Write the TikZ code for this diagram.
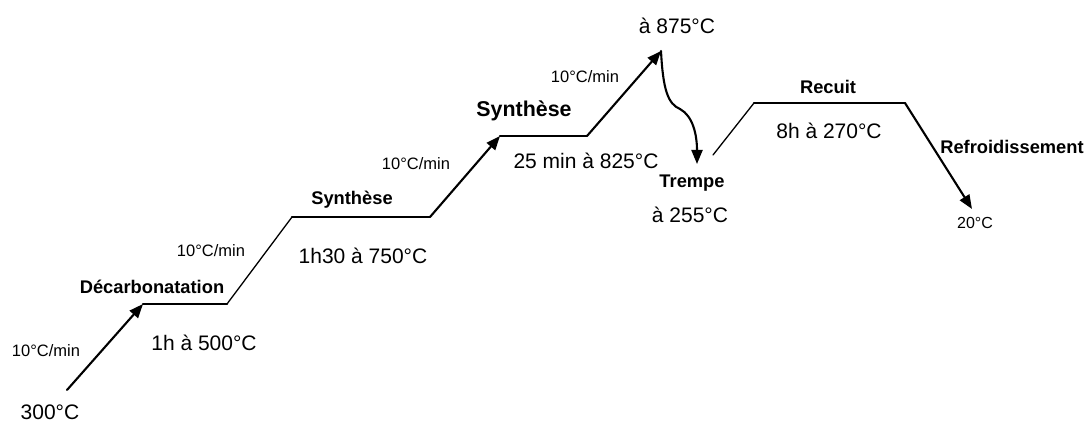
\documentclass[tikz,border=0pt]{standalone}
\usepackage{fontspec}
\setmainfont{Liberation Sans}
\usetikzlibrary{arrows.meta}
\begin{document}
\begin{tikzpicture}[x=1pt,y=-1pt,
  big/.style={inner sep=0pt,font=\fontsize{21}{21}\selectfont},
  stage/.style={inner sep=0pt,font=\fontsize{18.3}{18.3}\selectfont\bfseries},
  rate/.style={inner sep=0pt,font=\fontsize{16.5}{16.5}\selectfont},
  thick line/.style={line width=2.1pt,line cap=round,line join=round},
  thin line/.style={line width=1.3pt,line cap=round,line join=round},
  arr/.style={thick line,-{Triangle[length=14pt,width=11pt]}}]
\useasboundingbox (0,0) rectangle (1092,425);
% path vertices
\coordinate (p0) at (67,390);
\coordinate (p1) at (143,304);
\coordinate (p2) at (227,304);
\coordinate (p3) at (292,217);
\coordinate (p4) at (430,217);
\coordinate (p5) at (500,136);
\coordinate (p6) at (587,136);
\coordinate (p7) at (661,51);
\coordinate (p8) at (697,164);
\coordinate (p9) at (713,155);
\coordinate (p10) at (754,103);
\coordinate (p11) at (905,103);
\coordinate (p12) at (972,209);
% connectors
\draw[arr] (p0) -- (p1);
\draw[thick line] (p1) -- (p2);
\draw[thin line] (p2) -- (p3);
\draw[thick line] (p3) -- (p4);
\draw[arr] (p4) -- (p5);
\draw[thick line] (p5) -- (p6);
\draw[arr] (p6) -- (p7);
\draw[arr] (p7) .. controls (663,90) and (668,104) .. (680,109)
  .. controls (693,116) and (697,135) .. (p8);
\draw[thin line] (p9) -- (p10);
\draw[thick line] (p10) -- (p11);
\draw[arr] (p11) -- (p12);
% labels
\node[big] (t300) at (50,412) {300°C};
\node[rate] (r1) at (46,351) {10°C/min};
\node[stage] (dec) at (152,287) {Décarbonatation};
\node[big] (t500) at (204,343) {1h à 500°C};
\node[rate] (r2) at (211,251) {10°C/min};
\node[stage] (syn1) at (352,200) {Synthèse};
\node[big] (t750) at (363,256) {1h30 à 750°C};
\node[rate] (r3) at (416,164) {10°C/min};
\node[stage,font=\fontsize{21.4}{21.4}\selectfont\bfseries] (syn2) at (524,111) {Synthèse};
\node[big] (t825) at (586,161) {25 min à 825°C};
\node[rate] (r4) at (585,77) {10°C/min};
\node[big] (t875) at (677,26) {à 875°C};
\node[stage] (tremp) at (692,183) {Trempe};
\node[big] (t255) at (690,215) {à 255°C};
\node[stage] (rec) at (828,87) {Recuit};
\node[big] (t270) at (829,131) {8h à 270°C};
\node[stage] (refr) at (1012,147) {Refroidissement};
\node[rate,font=\fontsize{16}{16}\selectfont] (t20) at (975,223) {20°C};
\end{tikzpicture}
\end{document}
